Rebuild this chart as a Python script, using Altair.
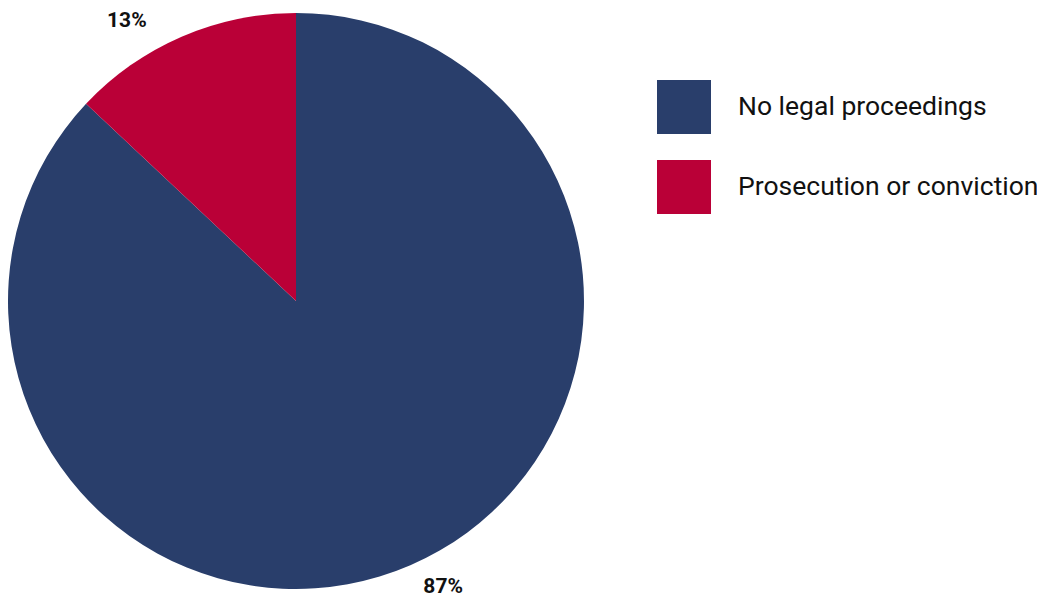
import altair as alt
import pandas as pd

categories = ["No legal proceedings", "Prosecution or conviction"]
values = [87, 13]
labels = ["87%", "13%"]
colors = ["#293E6B", "#BA0037"]

df = pd.DataFrame({"category": categories, "value": values, "label": labels, "order": [0, 1]})

CX, CY, R = 288, 293, 288

pie = alt.Chart(df).mark_arc(outerRadius=R, stroke=None).encode(
    theta=alt.Theta("value:Q", stack=True),
    order=alt.Order("order:Q"),
    x=alt.value(CX),
    y=alt.value(CY),
    color=alt.Color(
        "category:N",
        scale=alt.Scale(domain=categories, range=colors),
        legend=alt.Legend(
            title=None,
            orient="none",
            legendX=649,
            legendY=72,
            symbolType="square",
            symbolSize=2916,
            symbolStrokeWidth=0,
            symbolOpacity=1,
            labelFontSize=26.5,
            labelFont="Roboto",
            labelColor="#111111",
            labelOffset=27,
            rowPadding=26,
            padding=0,
            labelLimit=400,
        ),
    ),
)

label_base = (
    alt.Chart(df)
    .transform_joinaggregate(total="sum(value)")
    .transform_window(cum="sum(value)", sort=[alt.SortField("order")])
    .transform_calculate(mid="(datum.cum - datum.value / 2) / datum.total")
)

def lbl(cat, dx, dy):
    return label_base.transform_filter(alt.datum.category == cat).mark_text(
        radius=300, font="Roboto", fontSize=21, fontWeight="bold", color="#111111", dx=dx, dy=dy
    ).encode(
        theta=alt.Theta("mid:Q", scale=alt.Scale(domain=[0, 1], range=[0, 6.283185])),
        x=alt.value(CX),
        y=alt.value(CY),
        text="label:N",
    )

chart = alt.layer(
    pie,
    lbl(categories[0], 28, 11),
    lbl(categories[1], -50, -5),
).resolve_scale(theta="independent").properties(
    width=1029, height=593, padding=0, autosize="none"
).configure_view(stroke=None)

chart.save("out.html", embed_options={"renderer": "svg", "actions": False})
